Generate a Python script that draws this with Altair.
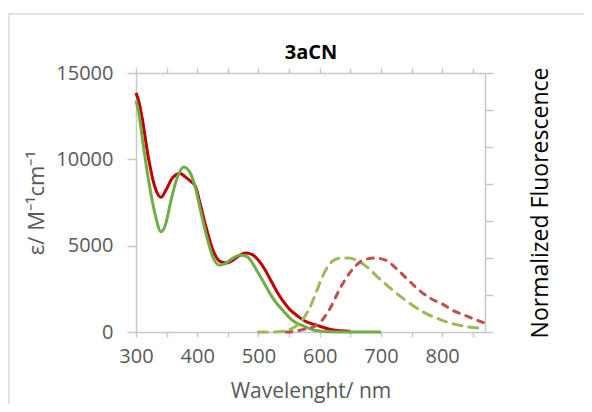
import altair as alt
import pandas as pd

# Absorption (left axis, ε / M^-1 cm^-1)
red_abs_wl = [300, 305, 310, 320, 330, 341, 350, 360, 372, 380, 390, 397, 405, 415, 425, 438, 448, 458, 468, 479, 490, 500, 510, 520, 530, 540, 550, 563, 575, 596, 620, 635, 650]
red_abs_val = [13850, 13300, 12400, 10150, 8500, 7800, 8300, 8950, 9180, 9000, 8700, 8450, 7400, 6000, 4800, 4070, 4000, 4150, 4400, 4570, 4480, 4150, 3650, 3000, 2350, 1800, 1350, 950, 650, 380, 130, 70, 40]

green_abs_wl = [300, 305, 310, 320, 330, 341, 348, 357, 367, 378, 388, 397, 405, 415, 425, 435, 445, 455, 470, 482, 490, 500, 509, 520, 530, 541, 550, 560, 574, 590, 603, 620, 650, 700]
green_abs_val = [13400, 12600, 11300, 8900, 7000, 5810, 6200, 7600, 8900, 9560, 9250, 8350, 7100, 5600, 4400, 3880, 3950, 4200, 4460, 4350, 4000, 3400, 2850, 2150, 1650, 1200, 850, 560, 340, 120, 50, 10, 0, 0]

# Normalized fluorescence (right axis)
green_em_wl = [500, 520, 540, 555, 565, 575, 585, 595, 604, 613, 623, 635, 648, 660, 677, 695, 720, 745, 769, 793, 818, 843, 868]
green_em_val = [0, 0, 0.01, 0.05, 0.1, 0.2, 0.35, 0.55, 0.74, 0.88, 0.97, 1.0, 1.0, 0.97, 0.88, 0.74, 0.56, 0.40, 0.27, 0.18, 0.11, 0.068, 0.045]

red_em_wl = [545, 560, 578, 595, 615, 634, 652, 671, 689, 708, 726, 745, 763, 782, 800, 818, 837, 855, 870]
red_em_val = [0, 0.01, 0.045, 0.09, 0.29, 0.6, 0.83, 0.97, 1.0, 0.97, 0.85, 0.70, 0.56, 0.45, 0.38, 0.29, 0.225, 0.165, 0.12]

chart_title = "3aCN"

abs_df = pd.concat([
    pd.DataFrame({"wl": red_abs_wl, "v": red_abs_val, "s": "abs_red", "o": 0}),
    pd.DataFrame({"wl": green_abs_wl, "v": green_abs_val, "s": "abs_green", "o": 1}),
])
em_df = pd.concat([
    pd.DataFrame({"wl": green_em_wl, "v": green_em_val, "s": "em_green"}),
    pd.DataFrame({"wl": red_em_wl, "v": red_em_val, "s": "em_red"}),
])

FONT = "Open Sans"
GREY = "#595959"
LINE = "#c8c8c8"
XDOM = [300, 870]
ticks50 = list(range(300, 851, 50))
LAB = 20
TIT = 22

x_bottom = alt.X("wl:Q", scale=alt.Scale(domain=XDOM, nice=False, zero=False),
                 axis=alt.Axis(values=ticks50, labelExpr="datum.value % 100 == 0 ? datum.label : ''",
                               title="Wavelenght/ nm", grid=False, domainColor=LINE, tickColor=LINE,
                               domainWidth=1.5, tickWidth=1.5, tickSize=5, labelColor=GREY,
                               labelFontSize=LAB, labelPadding=9, labelFlush=False, labelOverlap=False,
                               titleFontSize=21, titleFontWeight="normal", titleColor=GREY,
                               titlePadding=14, labelFont=FONT, titleFont=FONT, format="d"))

absorb = alt.Chart(abs_df).mark_line(strokeWidth=3, interpolate="monotone").encode(
    x=x_bottom,
    y=alt.Y("v:Q", scale=alt.Scale(domain=[0, 15000], nice=False),
            axis=alt.Axis(values=[0, 5000, 10000, 15000], title="ε/ M⁻¹cm⁻¹", grid=False,
                          domainColor=LINE, tickColor=LINE, domainWidth=1.5, tickWidth=1.5,
                          tickSize=9, labelColor=GREY, labelFontSize=LAB, labelPadding=14,
                          labelFlush=False, titleFontSize=TIT, titleFontWeight="normal",
                          titleColor=GREY, titlePadding=7, labelFont=FONT, titleFont=FONT,
                          format="d")),
    color=alt.Color("s:N", scale=alt.Scale(domain=["abs_red", "abs_green"], range=["#c00000", "#70ad47"]), legend=None),
    order="o:Q",
)

emit = alt.Chart(em_df).mark_line(strokeWidth=3, interpolate="monotone", strokeCap="round").encode(
    x=alt.X("wl:Q", scale=alt.Scale(domain=XDOM, nice=False, zero=False),
            axis=alt.Axis(orient="top", values=ticks50, labels=False, title=None, grid=False,
                          domainColor=LINE, tickColor=LINE, domainWidth=1.5, tickWidth=1.5, tickSize=5)),
    y=alt.Y("v:Q", scale=alt.Scale(domain=[0, 3.5], nice=False),
            axis=alt.Axis(orient="right", values=[0, 0.5, 1, 1.5, 2, 2.5, 3, 3.5], labels=False,
                          title="Normalized Fluorescence", grid=False, domainColor=LINE, tickColor=LINE,
                          domainWidth=1.5, tickWidth=1.5, tickSize=8, titleFontSize=23,
                          titleFontWeight="normal", titleColor="#000000", titlePadding=59,
                          titleAngle=270, titleFont=FONT)),
    color=alt.Color("s:N", scale=alt.Scale(domain=["em_green", "em_red"], range=["#9bbb59", "#c0504d"]), legend=None),
    strokeDash=alt.StrokeDash("s:N", scale=alt.Scale(domain=["em_green", "em_red"], range=[[9, 7], [6, 7]]), legend=None),
)

frame = alt.Chart(pd.DataFrame({"a": [0]})).mark_rect(filled=False, stroke="#d9d9d9", strokeWidth=1.5).encode(
    x=alt.value(-127), x2=alt.value(500), y=alt.value(-59), y2=alt.value(400)
)

title_mark = alt.Chart(pd.DataFrame({"t": [chart_title]})).mark_text(
    font=FONT, fontSize=20, fontWeight="bold", color="#000000", baseline="middle", align="center"
).encode(text="t:N", x=alt.value(175), y=alt.value(-20))

chart = alt.layer(frame, absorb, emit, title_mark).resolve_scale(
    x="independent", y="independent", color="independent", strokeDash="independent"
).properties(
    width=349, height=259,
    autosize=alt.AutoSizeParams(type="none"),
    padding={"left": 128, "top": 65, "right": 99, "bottom": 72},
).configure_view(stroke=None).configure(background="white")

chart.save("out.html", embed_options={"renderer": "svg", "actions": False})
